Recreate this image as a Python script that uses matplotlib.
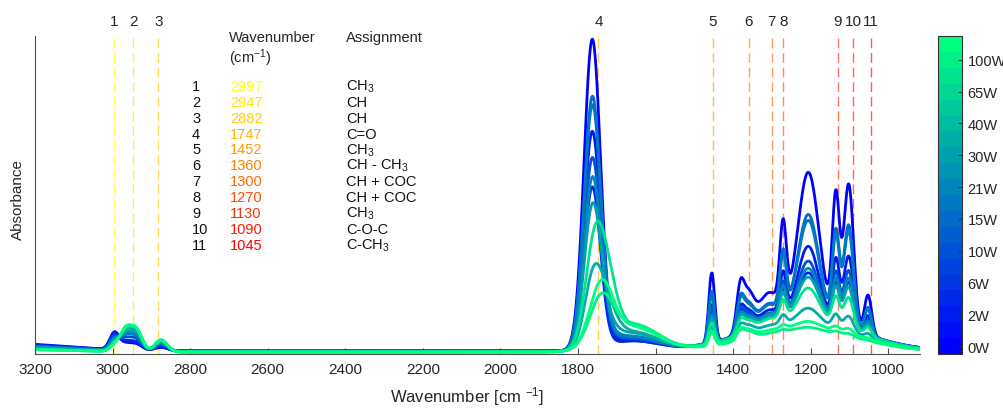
import numpy as np
import matplotlib
matplotlib.use('Agg')
import matplotlib.pyplot as plt
from matplotlib.colors import Normalize
from matplotlib.cm import ScalarMappable

plt.rcParams['font.family'] = ['Liberation Sans', 'DejaVu Sans']
plt.rcParams['mathtext.fontset'] = 'custom'
plt.rcParams['mathtext.rm'] = 'Liberation Sans'
plt.rcParams['mathtext.it'] = 'Liberation Sans:italic'

# ---------------- data ----------------
peak_ids = ['1', '2', '3', '4', '5', '6', '7', '8', '9', '10', '11']
peak_wavenumbers = [2997, 2947, 2882, 1747, 1452, 1360, 1300, 1270, 1130, 1090, 1045]
peak_assignments = [r'CH$_3$', 'CH', 'CH', 'C=O', r'CH$_3$', r'CH - CH$_3$',
                    'CH + COC', 'CH + COC', r'CH$_3$', 'C-O-C', r'C-CH$_3$']
power_labels = ['0W', '2W', '6W', '10W', '15W', '21W', '30W', '40W', '65W', '100W']
x_ticks = [3200, 3000, 2800, 2600, 2400, 2200, 2000, 1800, 1600, 1400, 1200, 1000]

# band model of the spectra (centre / FWHM in cm-1, reference amplitude)
ch_centers = [2995, 2966, 2938, 2875]
ch_widths = [28, 34, 34, 38]
ch_group_ref = [1.0, 0.95, 0.55]
oh_center, oh_width = 3300, 400
co1_center, co1_width = 1763, 50
co2_center, co2_width = 1740, 70
tail_center, tail_width = 1660, 160
mid_centers = [1455, 1382, 1362]
mid_widths = [18, 22, 36]
mid_ref = [70, 38, 36]
fp_centers = [1308, 1271, 1206, 1135, 1102, 1052]
fp_widths = [62, 20, 65, 22, 30, 22]
fp_ref = [32, 82, 148, 125, 145, 40]
bk_center, bk_width = 1220, 340

# per-spectrum values (colour level of 20, band amplitudes / scales)
curve_level = [0, 2, 3, 6, 8, 9, 10, 12, 13, 17, 18, 19]
co1_amp = [310, 218, 162, 185, 245, 235, 160, 125, 40, 40, 0, 0]
co2_amp = [0, 0, 0, 8, 10, 12, 15, 25, 50, 93, 45, 60]
tail_amp = [12, 10, 10, 12, 14, 14, 15, 18, 20, 25, 28, 25]
mid_scale = [1.0, 0.55, 0.45, 0.5, 0.75, 0.7, 0.4, 0.35, 0.25, 0.3, 0.2, 0.2]
fp_scale = [1.0, 0.51, 0.33, 0.41, 0.73, 0.69, 0.35, 0.29, 0.11, 0.22, 0.02, 0.04]
bk_amp = [32, 30, 30, 30, 30, 30, 32, 32, 28, 32, 22, 25]
ch_a = [17, 16, 15, 13, 11, 11, 10, 9, 8, 7, 6, 6]
ch_b = [6, 7, 8, 11, 14, 14, 16, 17, 19, 21, 22, 22]
oh_amp = [8, 7, 7, 6, 6, 6, 5, 5, 4, 3, 3, 3]
base_amp = [3, 3, 3, 3, 2.5, 2.5, 2.5, 2.5, 2, 2, 2, 2]

x_min, x_max = 918, 3200
n_levels = 20


def band(x, c, w, a):
    return a * np.exp(-4 * np.log(2) * ((x - c) / w) ** 2)


wn = np.linspace(x_max, x_min, 2000)

# ---------------- figure ----------------
W, H = 1004, 410
fig = plt.figure(figsize=(W / 100, H / 100), dpi=100)


def fx(px):
    return px / W


def fy(py):
    return 1 - py / H


AX_L, AX_R, AX_T, AX_B = 35, 920, 37, 355
ax = fig.add_axes([fx(AX_L), fy(AX_B), fx(AX_R) - fx(AX_L), fy(AX_T) - fy(AX_B)])
cmap = plt.get_cmap('winter', n_levels)

for i in range(len(curve_level)):
    y = np.full_like(wn, base_amp[i])
    y += band(wn, oh_center, oh_width, oh_amp[i])
    y += band(wn, ch_centers[0], ch_widths[0], ch_a[i])
    for c, w, r in zip(ch_centers[1:], ch_widths[1:], ch_group_ref):
        y += band(wn, c, w, r * ch_b[i])
    y += band(wn, co1_center, co1_width, co1_amp[i])
    y += band(wn, co2_center, co2_width, co2_amp[i])
    y += band(wn, tail_center, tail_width, tail_amp[i])
    for c, w, r in zip(mid_centers, mid_widths, mid_ref):
        y += band(wn, c, w, r * mid_scale[i])
    for c, w, r in zip(fp_centers, fp_widths, fp_ref):
        y += band(wn, c, w, r * fp_scale[i])
    y += band(wn, bk_center, bk_width, bk_amp[i])
    ax.plot(wn, y, color=cmap(curve_level[i]), lw=2.0, solid_capstyle='round')

ax.set_xlim(x_max, x_min)
ax.set_ylim(0, 320)

line_cols = [(1.0, 1.0 - k / 10.0, 0.0) for k in range(len(peak_wavenumbers))]
for k, (w0, lab) in enumerate(zip(peak_wavenumbers, peak_ids)):
    ax.axvline(w0, color=line_cols[k], lw=1.0, alpha=0.65, dashes=(7, 3.5), zorder=0.5)
    ax.text(w0, 1.047, lab, transform=ax.get_xaxis_transform(), ha='center', va='center',
            fontsize=11, color='#262626')

for s in ['top', 'right']:
    ax.spines[s].set_visible(False)
for s in ['left', 'bottom']:
    ax.spines[s].set_color('#4d4d4d')
    ax.spines[s].set_linewidth(0.8)
ax.set_yticks([])
ax.set_xticks(x_ticks)
ax.tick_params(axis='x', direction='in', length=4, width=0.8, color='#4d4d4d',
               labelsize=11, labelcolor='#262626', pad=6)
ax.set_xlabel(r'Wavenumber [cm $^{-1}$]', fontsize=12, color='#262626')
ax.xaxis.set_label_coords((467 - AX_L) / (AX_R - AX_L), -(397 - AX_B) / (AX_B - AX_T))
ax.xaxis.label.set_va('center')
ax.set_ylabel('Absorbance', fontsize=11, color='#262626')
ax.yaxis.set_label_coords(-(AX_L - 18) / (AX_R - AX_L), (AX_B - 200) / (AX_B - AX_T))
ax.yaxis.label.set_va('center')
ax.patch.set_alpha(0)

# table of assignments
fs = 10.5
fig.text(fx(229), fy(38), 'Wavenumber', fontsize=fs, va='center', ha='left', color='#262626')
fig.text(fx(229), fy(58), r'(cm$^{-1}$)', fontsize=fs, va='center', ha='left', color='#262626')
fig.text(fx(346), fy(38), 'Assignment', fontsize=fs, va='center', ha='left', color='#262626')
for k in range(len(peak_ids)):
    yy = fy(87 + k * 15.86)
    fig.text(fx(192), yy, peak_ids[k], fontsize=fs, va='center', ha='left', color='#111111')
    fig.text(fx(230), yy, str(peak_wavenumbers[k]), fontsize=fs, va='center', ha='left',
             color=line_cols[k])
    fig.text(fx(346), yy, peak_assignments[k], fontsize=fs, va='center', ha='left',
             color='#111111')

# colorbar
cax = fig.add_axes([fx(938), fy(355), fx(962) - fx(938), fy(37) - fy(355)])
sm = ScalarMappable(norm=Normalize(0, n_levels), cmap=cmap)
cb = fig.colorbar(sm, cax=cax, ticks=[k + 0.5 for k in range(0, n_levels, 2)])
cb.set_ticklabels(power_labels)
cb.outline.set_edgecolor('#333333')
cb.outline.set_linewidth(0.8)
cax.tick_params(direction='in', length=3, width=0.8, color='#333333', labelsize=10.5,
                labelcolor='#262626', pad=4)

fig.savefig('out.png', dpi=100)
